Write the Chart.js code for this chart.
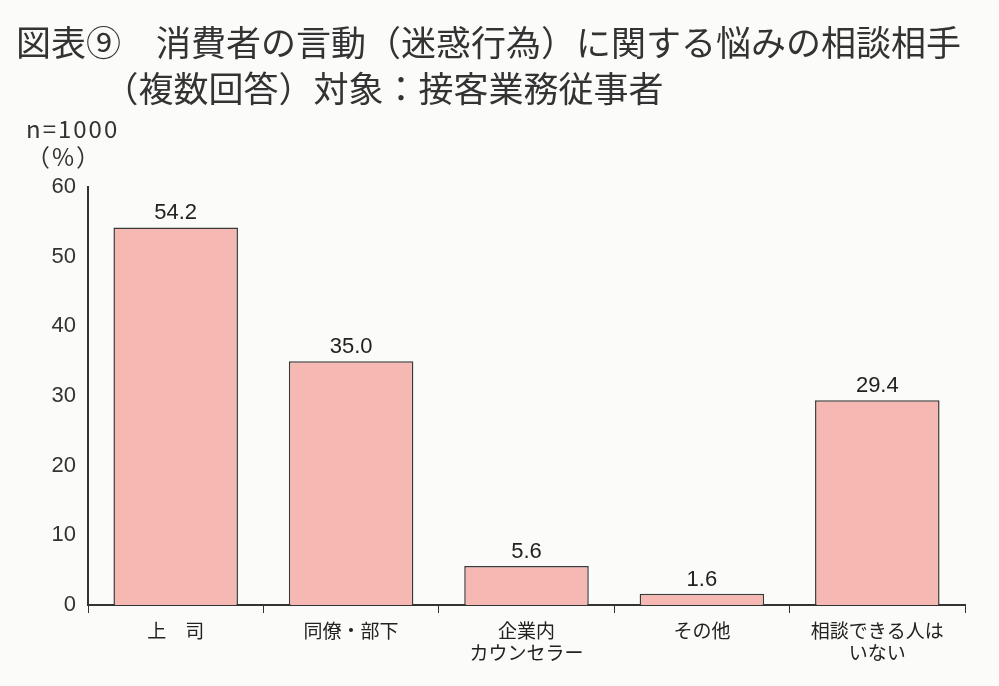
<!DOCTYPE html><html><head><meta charset="utf-8">
<script src="https://cdn.jsdelivr.net/npm/chart.js@4"></script>
<style>body{margin:0;background:#fbfbf9;font-family:"Noto Sans CJK JP";color:#333}
#t{position:absolute;left:16px;top:18px;font-size:35px;line-height:46px;white-space:pre}
#n{position:absolute;left:26px;top:114px;font-size:24px;line-height:28px;white-space:pre;letter-spacing:2px}
#w{position:absolute;left:0;top:0;width:999px;height:686px}</style></head><body>
<div id="w"><canvas id="c" width="999" height="686"></canvas></div>
<div id="t">図表⑨　消費者の言動（迷惑行為）に関する悩みの相談相手
　　　（複数回答）対象：接客業務従事者</div>
<div id="n">n=1000
（%）</div>
<script>
const categories=[["上　司"],["同僚・部下"],["企業内","カウンセラー"],["その他"],["相談できる人は","いない"]];
const values=[54.2,35.0,5.6,1.6,29.4];
const yTicks=[0,10,20,30,40,50,60];
const lbl={id:'lbl',afterDatasetsDraw(ch){const c=ch.ctx;c.save();c.font='22px "Liberation Sans"';c.fillStyle='#222';c.textAlign='center';c.textBaseline='bottom';
ch.getDatasetMeta(0).data.forEach((b,i)=>c.fillText(values[i].toFixed(1),b.x,b.y-3));c.restore();}};
new Chart(document.getElementById('c'),{type:'bar',data:{labels:categories,datasets:[{data:values,backgroundColor:'#f5b8b3',borderColor:'#3a3a3a',borderWidth:1.5,categoryPercentage:0.71,barPercentage:1}]},
options:{responsive:false,animation:false,layout:{padding:{top:187,right:34,left:0,bottom:0}},
plugins:{legend:{display:false},tooltip:{enabled:false}},
scales:{y:{min:0,max:60,afterFit(s){s.width=88},afterBuildTicks(s){s.ticks=yTicks.map(v=>({value:v}))},grid:{display:false,drawTicks:true,tickLength:8,color:'#333'},border:{color:'#333',width:2},
ticks:{color:'#333',font:{family:'Liberation Sans',size:22},padding:4}},
x:{afterFit(s){s.height=81},grid:{display:true,drawOnChartArea:false,offset:true,tickLength:8,color:'#333'},border:{color:'#333',width:2},
ticks:{color:'#222',font:{family:'Noto Sans CJK JP',size:19},padding:6}}}},plugins:[lbl]});
</script></body></html>
